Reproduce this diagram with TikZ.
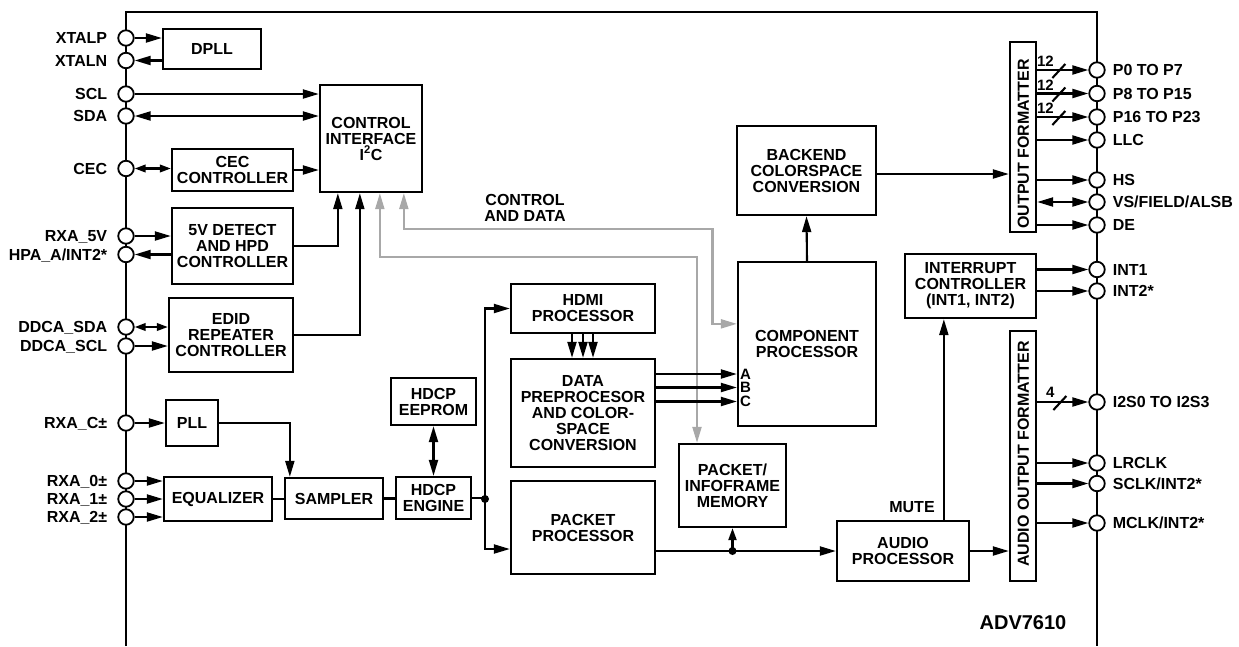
\documentclass[tikz,border=0pt]{standalone}
\usepackage{fontspec}
\setmainfont{Liberation Sans}
\usetikzlibrary{arrows.meta,calc}
\definecolor{gline}{RGB}{168,168,168}
\newcommand\dfont{\bfseries\fontsize{16}{16}\selectfont}
\tikzset{
  box/.style={draw, line width=2.3pt, align=center, inner sep=0pt, font=\dfont},
  bx/.style 2 args={box, minimum width=#1pt, minimum height=#2pt},
  pinc/.style={circle, draw, fill=white, line width=1.8pt, minimum size=15.5pt, inner sep=0pt},
  lbl/.style={inner sep=0pt, font=\dfont, text height=11.5pt, text depth=0pt},
  abcl/.style={inner sep=0pt, font=\bfseries\fontsize{15}{15}\selectfont, text height=10.5pt, text depth=0pt},
  numl/.style={inner sep=0pt, font=\bfseries\fontsize{15}{15}\selectfont, text height=10.8pt, text depth=0pt},
  wire/.style={line width=2.1pt},
  arr/.style={wire, -{Triangle[length=16pt,width=9pt]}},
  sarr/.style={wire, -{Triangle[length=12pt,width=8pt]}},
  darr/.style={wire, {Triangle[length=16pt,width=9pt]}-{Triangle[length=16pt,width=9pt]}},
  sdarr/.style={wire, {Triangle[length=11pt,width=7.5pt]}-{Triangle[length=11pt,width=7.5pt]}},
  garr/.style={wire, draw=gline, {Triangle[length=16pt,width=9pt,fill=gline]}-{Triangle[length=16pt,width=9pt,fill=gline]}},
}
\newcommand\lpin[3]{\node[pinc] (#1) at (126,#2) {};
  \node[lbl,anchor=east] (l#1) at ($(#1.west)+(-10,0)$) {#3};}
\newcommand\rpin[3]{\node[pinc] (#1) at (1097,#2) {};
  \node[lbl,anchor=west] (l#1) at ($(#1.east)+(7,0)$) {#3};}
\begin{document}
\begin{tikzpicture}[x=1pt,y=-1pt]
\useasboundingbox (0,0) rectangle (1239,646);
% chip outline
\draw[line width=2.3pt] (126,646) -- (126,12) -- (1097,12) -- (1097,646);

% blocks
\node[bx={98}{40}] (dpll) at (212,49) {DPLL};
\node[bx={102}{107}] (ctrl) at (371,138.5) {CONTROL\\INTERFACE\\I\textsuperscript{2}C};
\node[bx={121}{42}] (cecc) at (232.5,170) {CEC\\CONTROLLER};
\node[bx={121}{76}] (det) at (232.5,246) {5V DETECT\\AND HPD\\CONTROLLER};
\node[bx={124}{74}] (edid) at (231,335) {EDID\\REPEATER\\CONTROLLER};
\node[bx={52}{46}] (pll) at (192,423) {PLL};
\node[bx={108}{44}] (eq) at (218,499) {EQUALIZER};
\node[bx={98}{41}] (samp) at (334,498.5) {SAMPLER};
\node[bx={75}{42}] (eng) at (433.5,498) {HDCP\\ENGINE};
\node[bx={85}{47}] (eeprom) at (433.5,401.5) {HDCP\\EEPROM};
\node[bx={144}{49}] (hdmi) at (583,308.5) {HDMI\\PROCESSOR};
\node[bx={144}{108}] (dpp) at (583,413) {DATA\\PREPROCESOR\\AND COLOR-\\SPACE\\CONVERSION};
\node[bx={144}{93}] (pkt) at (583,527.5) {PACKET\\PROCESSOR};
\node[bx={107}{83}] (pmem) at (732.5,485.5) {PACKET/\\INFOFRAME\\MEMORY};
\node[bx={138}{164}] (comp) at (807,344) {COMPONENT\\PROCESSOR};
\node[bx={139}{89}] (back) at (806.5,170.5) {BACKEND\\COLORSPACE\\CONVERSION};
\node[bx={131}{64}] (intc) at (970.5,286) {INTERRUPT\\CONTROLLER\\(INT1, INT2)};
\node[bx={132}{60}] (audio) at (903,551) {AUDIO\\PROCESSOR};
\node[bx={26}{190}] (of) at (1023,137) {};
\node[lbl, rotate=90] (oft) at ($(of.center)+(0,7)$) {OUTPUT FORMATTER};
\node[bx={26}{250}] (aof) at (1023,456) {};
\node[lbl, rotate=90] (aoft) at ($(aof.center)+(0,-2)$) {AUDIO OUTPUT FORMATTER};

% pins left
\lpin{xtalp}{38}{XTALP}
\lpin{xtaln}{60.5}{XTALN}
\lpin{scl}{94}{SCL}
\lpin{sda}{116}{SDA}
\lpin{cec}{168.5}{CEC}
\lpin{rxa5v}{236}{RXA\_5V}
\lpin{hpa}{254.5}{HPA\_A/INT2*}
\lpin{ddcasda}{327}{DDCA\_SDA}
\lpin{ddcascl}{346}{DDCA\_SCL}
\lpin{rxac}{423}{RXA\_C±}
\lpin{rxa0}{481}{RXA\_0±}
\lpin{rxa1}{499}{RXA\_1±}
\lpin{rxa2}{517}{RXA\_2±}
% pins right
\rpin{p0}{70}{P0 TO P7}
\rpin{p8}{93.5}{P8 TO P15}
\rpin{p16}{117}{P16 TO P23}
\rpin{llc}{140}{LLC}
\rpin{hs}{180}{HS}
\rpin{vs}{202}{VS/FIELD/ALSB}
\rpin{de}{225}{DE}
\rpin{int1}{269.5}{INT1}
\rpin{int2}{291}{INT2*}
\rpin{i2s}{402}{I2S0 TO I2S3}
\rpin{lrclk}{463}{LRCLK}
\rpin{sclk}{483.5}{SCLK/INT2*}
\rpin{mclk}{523}{MCLK/INT2*}

% gray control and data paths
\coordinate (g1a) at ($(ctrl.south west)+(85,0)$);
\coordinate (g1b) at (712.5,229);
\coordinate (g1c) at ($(comp.north west)+(0,63)$);
\draw[garr] (g1a) |- (g1b) |- (g1c);
\coordinate (g2a) at ($(ctrl.south west)+(61,0)$);
\coordinate (g2b) at (697,257);
\draw[garr] (g2a) |- (g2b) -- (g2b |- pmem.north);
\node[lbl, align=center, text height=, text depth=] (cad) at (525,208) {CONTROL\\AND DATA};

% left side connections
\draw[arr] (xtalp.east) -- (xtalp -| dpll.west);
\draw[arr] (xtaln -| dpll.west) -- (xtaln.east);
\draw[arr] (scl.east) -- (scl -| ctrl.west);
\draw[darr] (sda.east) -- (sda -| ctrl.west);
\draw[sdarr] (cec.east) -- (cec -| cecc.west);
\draw[arr] (cecc.east) -- (cecc.east -| ctrl.west);
\draw[arr] (rxa5v.east) -- (rxa5v -| det.west);
\draw[arr] (hpa -| det.west) -- (hpa.east);
\draw[arr] (det.east) -| ($(ctrl.south west)+(19,0)$);
\draw[sdarr] (ddcasda.east) -- (ddcasda -| edid.west);
\draw[arr] (ddcascl.east) -- (ddcascl -| edid.west);
\draw[arr] (edid.east) -| ($(ctrl.south west)+(41,0)$);
\draw[arr] (rxac.east) -- (rxac -| pll.west);
\draw[arr] (pll.east) -| ($(samp.north west)+(6,0)$);
\draw[arr] (rxa0.east) -- (rxa0 -| eq.west);
\draw[arr] (rxa1.east) -- (rxa1 -| eq.west);
\draw[arr] (rxa2.east) -- (rxa2 -| eq.west);
\draw[wire] (eq.east) -- (eq.east -| samp.west);
\draw[wire] (samp.east) -- (samp.east -| eng.west);
\draw[darr] (eeprom.south) -- (eng.north);
\coordinate (jd) at (485,499);
\draw[wire] (eng.east) -- (eng.east -| jd);
\fill (jd) circle (4pt);
\draw[arr] (jd) |- (hdmi.west);
\coordinate (pin) at ($(pkt.west)+(0,21.5)$);
\draw[arr] (jd) |- (pin);
\foreach \dx in {-11,0,10}
  \draw[arr] ($(hdmi.south)+(\dx,0)$) -- ($(dpp.north)+(\dx,0)$);

% component processor inputs
\coordinate (ca) at ($(comp.west)+(0,30)$);
\coordinate (cb) at ($(comp.west)+(0,43.5)$);
\coordinate (cc) at ($(comp.west)+(0,57.5)$);
\draw[arr] (ca -| dpp.east) -- (ca);
\draw[arr] (cb -| dpp.east) -- (cb);
\draw[arr] (cc -| dpp.east) -- (cc);
\node[abcl, anchor=west] (la) at ($(ca)+(3,0)$) {A};
\node[abcl, anchor=west] (lb) at ($(cb)+(3,0)$) {B};
\node[abcl, anchor=west] (lc) at ($(cc)+(3,0)$) {C};
\draw[arr] (comp.north) -- (back.south);
\coordinate (bo) at ($(back.east)+(0,3.5)$);
\draw[arr] (bo) -- (bo -| of.west);

% packet / audio
\coordinate (jp) at (pmem.south |- audio.west);
\draw[arr] (audio.west -| pkt.east) -- (audio.west);
\fill (jp) circle (4pt);
\draw[sarr] (jp) -- (pmem.south);
\draw[arr] (audio.east) -- (audio.east -| aof.west);
\coordinate (mt) at ($(audio.north west)+(108,0)$);
\draw[arr] (mt) -- (mt |- intc.south);
\node[lbl] (mutel) at (912,507) {MUTE};

% output formatter outputs
\foreach \p in {p0,p8,p16}{
  \draw[arr] (\p -| of.east) -- (\p.west);
  \draw[wire] ($(\p.west)+(-36,8)$) -- ($(\p.west)+(-23,-6)$);
  \node[numl] at ($(\p.west)+(-43,-8.5)$) {12};
}
\foreach \p in {llc,hs,de}
  \draw[arr] (\p -| of.east) -- (\p.west);
\draw[darr] (vs -| of.east) -- (vs.west);
\draw[arr] (int1 -| intc.east) -- (int1.west);
\draw[arr] (int2 -| intc.east) -- (int2.west);
\draw[arr] (i2s -| aof.east) -- (i2s.west);
\draw[wire] ($(i2s.west)+(-35,8)$) -- ($(i2s.west)+(-22,-6)$);
\node[numl] (n4) at ($(i2s.west)+(-38,-10)$) {4};
\foreach \p in {lrclk,sclk,mclk}
  \draw[arr] (\p -| aof.east) -- (\p.west);

\node[inner sep=0pt, font=\bfseries\fontsize{20}{20}\selectfont] (chip) at (1023,623) {ADV7610};
\end{tikzpicture}
\end{document}
